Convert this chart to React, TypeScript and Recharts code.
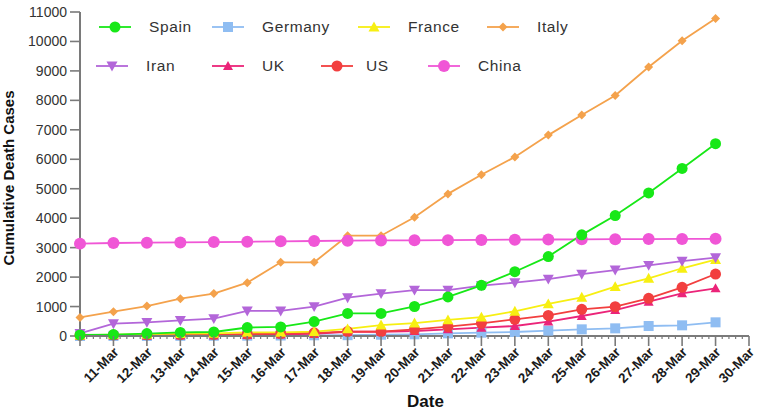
import React from 'react';
import { LineChart, Line, XAxis, YAxis, Label } from 'recharts';

const dates = ['10-Mar','11-Mar','12-Mar','13-Mar','14-Mar','15-Mar','16-Mar','17-Mar','18-Mar','19-Mar','20-Mar','21-Mar','22-Mar','23-Mar','24-Mar','25-Mar','26-Mar','27-Mar','28-Mar','29-Mar','30-Mar'];

const spain = [35, 47, 84, 120, 136, 288, 309, 491, 767, 767, 1002, 1326, 1720, 2182, 2696, 3434, 4089, 4858, 5690, 6528];
const germany = [2, 3, 3, 7, 9, 11, 17, 24, 28, 44, 57, 90, 113, 136, 181, 226, 260, 339, 362, 464];
const france = [33, 48, 61, 79, 91, 124, 124, 148, 240, 372, 440, 545, 640, 840, 1090, 1312, 1674, 1960, 2300, 2590];
const italy = [631, 827, 1016, 1266, 1441, 1809, 2503, 2503, 3405, 3405, 4032, 4825, 5476, 6077, 6820, 7503, 8165, 9134, 10023, 10779];
const iran = [90, 420, 464, 530, 590, 850, 850, 1000, 1300, 1440, 1560, 1560, 1710, 1812, 1934, 2100, 2240, 2400, 2540, 2660];
const uk = [6, 8, 10, 21, 21, 35, 55, 71, 144, 144, 170, 226, 283, 340, 490, 679, 882, 1165, 1448, 1618];
const us = [28, 36, 40, 47, 54, 63, 85, 108, 150, 150, 226, 317, 430, 566, 700, 905, 995, 1278, 1652, 2104];
const china = [3136, 3158, 3169, 3176, 3189, 3199, 3213, 3226, 3237, 3245, 3248, 3255, 3261, 3270, 3277, 3281, 3287, 3292, 3295, 3300];

const yTicks = [0, 1000, 2000, 3000, 4000, 5000, 6000, 7000, 8000, 9000, 10000, 11000];

type Shape = 'circle' | 'square' | 'triangle' | 'triangleDown' | 'diamond';

interface Series { name: string; key: string; values: number[]; color: string; shape: Shape; size: number; }

const series: Series[] = [
  { name: 'Spain', key: 'spain', values: spain, color: '#17e817', shape: 'circle', size: 11 },
  { name: 'Germany', key: 'germany', values: germany, color: '#8fbdf2', shape: 'square', size: 10 },
  { name: 'France', key: 'france', values: france, color: '#f7ef12', shape: 'triangle', size: 11 },
  { name: 'Italy', key: 'italy', values: italy, color: '#f4a24c', shape: 'diamond', size: 9 },
  { name: 'Iran', key: 'iran', values: iran, color: '#b366d9', shape: 'triangleDown', size: 11 },
  { name: 'UK', key: 'uk', values: uk, color: '#eb2479', shape: 'triangle', size: 10 },
  { name: 'US', key: 'us', values: us, color: '#f23f3f', shape: 'circle', size: 11 },
  { name: 'China', key: 'china', values: china, color: '#f056d6', shape: 'circle', size: 12 },
];

const drawOrder = ['germany', 'uk', 'us', 'france', 'iran', 'italy', 'china', 'spain'];

const rows = spain.map((_, i) => {
  const r: Record<string, number> = { x: i };
  series.forEach((s) => { r[s.key] = s.values[i]; });
  return r;
});

const xTicks = Array.from({ length: 101 }, (_, i) => i / 5);

const FONT = '"Liberation Sans", Arial, sans-serif';

function Marker({ cx, cy, shape, color, size }: { cx: number; cy: number; shape: Shape; color: string; size: number }) {
  const h = size / 2;
  if (shape === 'circle') return <circle cx={cx} cy={cy} r={h} fill={color} />;
  if (shape === 'square') return <rect x={cx - h} y={cy - h} width={size} height={size} fill={color} />;
  if (shape === 'triangle') return <polygon points={`${cx},${cy - h} ${cx + h},${cy + h * 0.8} ${cx - h},${cy + h * 0.8}`} fill={color} />;
  if (shape === 'triangleDown') return <polygon points={`${cx},${cy + h} ${cx + h},${cy - h * 0.8} ${cx - h},${cy - h * 0.8}`} fill={color} />;
  return <polygon points={`${cx},${cy - h} ${cx + h},${cy} ${cx},${cy + h} ${cx - h},${cy}`} fill={color} />;
}

function XTick(props: any) {
  const { x, y, payload } = props;
  const v = payload.value as number;
  const isMajor = Math.abs(v - Math.round(v)) < 1e-6;
  const idx = Math.round(v);
  if (!isMajor) {
    return <line x1={x} y1={y} x2={x} y2={y + 3} stroke="#7a7a7a" strokeWidth={1.2} />;
  }
  const label = idx >= 1 ? dates[idx] : '';
  return (
    <g>
      <line x1={x} y1={y} x2={x} y2={y + 10} stroke="#7a7a7a" strokeWidth={1.6} />
      {label && (
        <text x={x + 6} y={y + 17} textAnchor="end" transform={`rotate(-45 ${x + 6} ${y + 17})`} fontFamily={FONT} fontWeight="bold" fontSize={13.5} fill="#1a1a1a">
          {label}
        </text>
      )}
    </g>
  );
}

function YTitle(props: any) {
  const vb = props.viewBox || { x: 0, y: 12, width: 80, height: 324 };
  const x = vb.x + 14;
  const y = vb.y + vb.height / 2 + 4;
  return (
    <text x={x} y={y} transform={`rotate(-90 ${x} ${y})`} textAnchor="middle" fontFamily={FONT} fontWeight="bold" fontSize={15} fill="#111">
      Cumulative Death Cases
    </text>
  );
}

const legendRows = [
  { key: 'spain', lx: 99, tx: 149, cy: 27 },
  { key: 'germany', lx: 212, tx: 262, cy: 27 },
  { key: 'france', lx: 358, tx: 408, cy: 27 },
  { key: 'italy', lx: 487, tx: 537, cy: 27 },
  { key: 'iran', lx: 96, tx: 146, cy: 66 },
  { key: 'uk', lx: 212, tx: 262, cy: 66 },
  { key: 'us', lx: 321, tx: 366, cy: 66 },
  { key: 'china', lx: 428, tx: 478, cy: 66 },
];

export default function App() {
  return (
    <div style={{ position: 'absolute', left: 0, top: 0, width: 771, height: 419, background: '#fff' }}>
      <LineChart width={771} height={419} data={rows} margin={{ top: 12, right: 22, bottom: 0, left: 0 }}>
        <XAxis
          dataKey="x"
          type="number"
          domain={[0, 20]}
          ticks={xTicks}
          interval={0}
          height={83}
          tickSize={0}
          tickMargin={0}
          tickLine={false}
          tick={<XTick />}
          axisLine={{ stroke: '#7a7a7a', strokeWidth: 2 }}
        >
          <Label value="Date" position="insideBottom" offset={12} style={{ fontFamily: FONT, fontWeight: 'bold', fontSize: 17, fill: '#111' }} dx={11} />
        </XAxis>
        <YAxis
          type="number"
          domain={[0, 11000]}
          ticks={yTicks}
          interval={0}
          width={80}
          tickSize={10}
          tickMargin={3}
          tickLine={{ stroke: '#7a7a7a', strokeWidth: 1.6 }}
          axisLine={{ stroke: '#7a7a7a', strokeWidth: 2 }}
          tick={{ fontFamily: FONT, fontSize: 14, fill: '#333' }}
        >
          <Label content={<YTitle />} />
        </YAxis>
        {drawOrder.map((k) => {
          const s = series.find((q) => q.key === k)!;
          return (
            <Line
              key={s.key}
              dataKey={s.key}
              name={s.name}
              stroke={s.color}
              strokeWidth={1.8}
              isAnimationActive={false}
              dot={(p: any) => <Marker key={`${s.key}-${p.index}`} cx={p.cx} cy={p.cy} shape={s.shape} color={s.color} size={s.size} />}
              activeDot={false}
            />
          );
        })}
      </LineChart>
      {legendRows.map((r) => {
        const s = series.find((q) => q.key === r.key)!;
        return (
          <React.Fragment key={r.key}>
            <svg style={{ position: 'absolute', left: r.lx, top: r.cy - 8 }} width={32} height={16}>
              <line x1={0} y1={8} x2={32} y2={8} stroke={s.color} strokeWidth={1.8} />
              <Marker cx={16} cy={8} shape={s.shape} color={s.color} size={s.size} />
            </svg>
            <span style={{ position: 'absolute', left: r.tx, top: r.cy - 10, lineHeight: '20px', fontFamily: FONT, fontSize: 15.5, letterSpacing: 0.6, color: '#333', whiteSpace: 'nowrap' }}>
              {s.name}
            </span>
          </React.Fragment>
        );
      })}
    </div>
  );
}
